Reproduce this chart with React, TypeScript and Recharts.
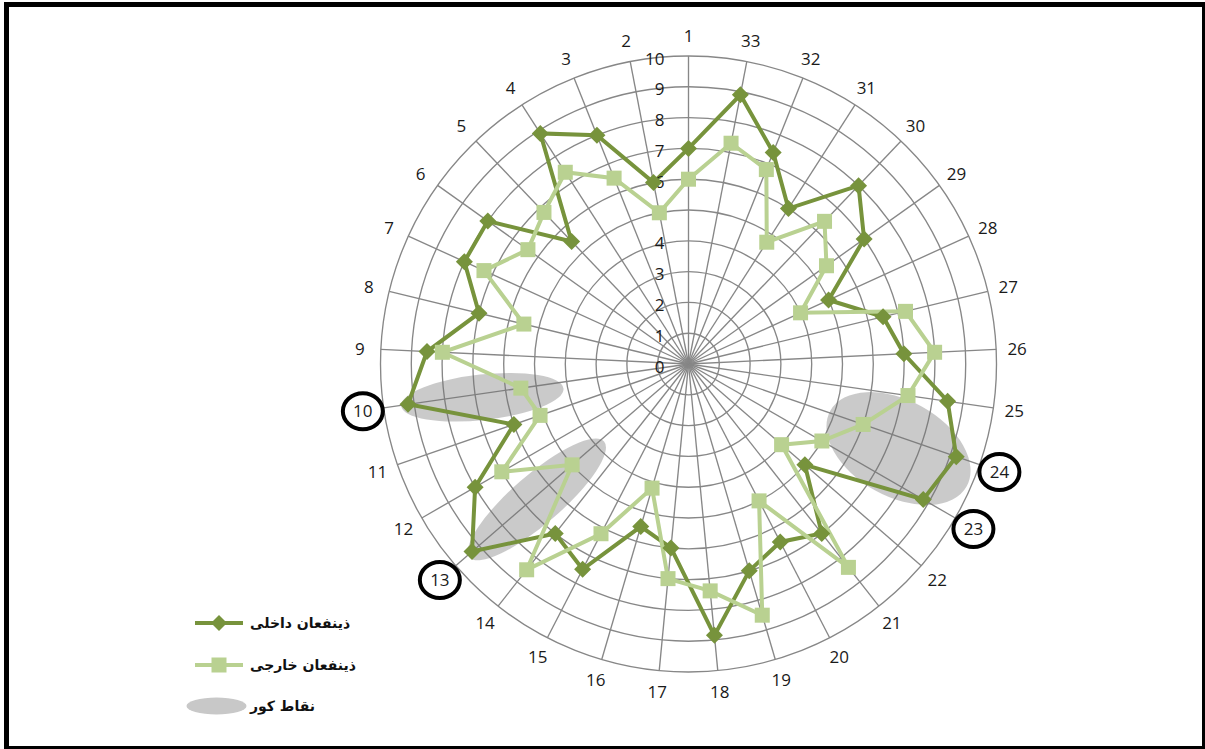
import React from 'react';
import {
  RadarChart,
  Radar,
  PolarGrid,
  PolarAngleAxis,
  PolarRadiusAxis,
  Legend,
  Customized,
} from 'recharts';

// ---------- data ----------
const categories = [
  '1', '2', '3', '4', '5', '6', '7', '8', '9', '10', '11',
  '12', '13', '14', '15', '16', '17', '18', '19', '20', '21', '22',
  '23', '24', '25', '26', '27', '28', '29', '30', '31', '32', '33',
];

// ذینفعان داخلی (internal stakeholders)
const internalValues = [
  7, 6, 8, 8.9, 5.5, 8, 8, 7, 8.5, 9.2, 6,
  8, 9.3, 7, 7.5, 5.5, 6, 8.85, 7, 6.5, 7, 5,
  8.8, 9.2, 8.5, 7, 6.5, 5, 7, 8, 6, 7.4, 8.9,
];

// ذینفعان خارجی (external stakeholders)
const externalValues = [
  6, 5, 6.5, 7.4, 6.8, 6.4, 7.3, 5.5, 8, 5.5, 5.1,
  7, 5, 8.5, 6.2, 4.2, 7, 7.4, 8.5, 5, 8.4, 4,
  5, 6, 7.2, 8, 7.25, 4, 5.5, 6.4, 4.7, 6.8, 7.3,
];

const radiusTicks = [0, 1, 2, 3, 4, 5, 6, 7, 8, 9, 10];
const highlightedCategories = ['10', '13', '23', '24'];

const internalName = 'ذینفعان داخلی';
const externalName = 'ذینفعان خارجی';
const blindSpotName = 'نقاط کور';

// blind-spot annotations, in data units (category position, value radius, half-axes)
const blindSpots = [
  { pos: 10.09, value: 6.78, a: 2.65, b: 0.74, tilt: 3 },
  { pos: 13.08, value: 6.6, a: 2.88, b: 0.8, tilt: 1 },
  { pos: 23.74, value: 7.35, a: 2.53, b: 1.56, tilt: 7 },
];

// categories run counter-clockwise from the top: 1, 2, 3 ... ; the chart is drawn
// clockwise, so the table is ordered 1, 33, 32, ..., 2
const displayOrder = categories.map((_, i) => (categories.length - i) % categories.length);
const data = displayOrder.map((j) => ({
  cat: categories[j],
  internal: internalValues[j],
  external: externalValues[j],
}));

// ---------- layout / style ----------
const W = 1205;
const H = 749;
const CX = 688.5;
const CY = 364;
const R = 308;
const LABEL_R = 329;
const DOMAIN_MAX = 10;
const STEP = 360 / categories.length;

const DARK = '#77933C';
const LIGHT = '#B9D191';
const GRID = '#878787';
const NUM_FONT = '"Open Sans", "DejaVu Sans", sans-serif';
const FA_FONT = '"DejaVu Sans", "Noto Sans", sans-serif';

const AngleTick = (props: any) => {
  const { x, y, payload } = props;
  const dx = x - CX;
  const dy = y - CY;
  const len = Math.hypot(dx, dy) || 1;
  const lx = CX + (dx / len) * LABEL_R;
  const ly = CY + (dy / len) * LABEL_R;
  const hl = highlightedCategories.includes(String(payload.value));
  return (
    <g>
      {hl && (
        <ellipse cx={lx} cy={ly + 0.5} rx={20} ry={18} fill="none" stroke="#000" strokeWidth={4} />
      )}
      <text
        x={lx}
        y={ly}
        textAnchor="middle"
        dominantBaseline="central"
        fontFamily={NUM_FONT}
        fontSize={17}
        fill="#1a1a1a"
      >
        {payload.value}
      </text>
    </g>
  );
};

const RadiusTick = (props: any) => {
  const { x, y, payload } = props;
  return (
    <text
      x={x - 24}
      y={y + 2}
      textAnchor="end"
      dominantBaseline="central"
      fontFamily={NUM_FONT}
      fontSize={17}
      fill="#1a1a1a"
    >
      {payload.value}
    </text>
  );
};

const Diamond = (props: any) => {
  const { cx, cy } = props;
  if (cx == null || cy == null) return null;
  const s = 8.5;
  return (
    <path
      d={`M${cx},${cy - s}L${cx + s},${cy}L${cx},${cy + s}L${cx - s},${cy}Z`}
      fill={DARK}
      stroke="none"
    />
  );
};

const Square = (props: any) => {
  const { cx, cy } = props;
  if (cx == null || cy == null) return null;
  const s = 7.5;
  return <rect x={cx - s} y={cy - s} width={2 * s} height={2 * s} fill={LIGHT} stroke="none" />;
};

const BlindSpotLayer = () => {
  return (
    <g>
      {blindSpots.map((s, i) => {
        const theta = 90 + (s.pos - 1) * STEP;
        const rad = (theta * Math.PI) / 180;
        const r = (s.value / DOMAIN_MAX) * R;
        const x = CX + r * Math.cos(rad);
        const y = CY - r * Math.sin(rad);
        const rot = -theta + s.tilt;
        return (
          <ellipse
            key={i}
            cx={x}
            cy={y}
            rx={(s.a / DOMAIN_MAX) * R}
            ry={(s.b / DOMAIN_MAX) * R}
            transform={`rotate(${rot} ${x} ${y})`}
            fill="rgba(115,115,115,0.38)"
          />
        );
      })}
    </g>
  );
};

const LegendContent = (props: any) => {
  const payload = (props.payload || []) as any[];
  const order = ['internal', 'external'];
  const rows = [...payload].sort(
    (a, b) => order.indexOf(a.dataKey) - order.indexOf(b.dataKey)
  );
  const heights = [40, 44, 38];
  const textStyle: React.CSSProperties = {
    fontFamily: FA_FONT,
    fontWeight: 'bold',
    fontSize: 14,
    color: '#111',
    direction: 'rtl',
    whiteSpace: 'nowrap',
  };
  return (
    <div>
      {rows.map((p, i) => {
        const isInternal = p.dataKey === 'internal';
        const color = isInternal ? DARK : LIGHT;
        return (
          <div
            key={p.dataKey}
            style={{ display: 'flex', alignItems: 'center', height: heights[i] }}
          >
            <svg width={64} height={20} style={{ display: 'block' }}>
              <line x1={9} y1={10} x2={57} y2={10} stroke={color} strokeWidth={4} />
              {isInternal ? (
                <path d="M33,2L41,10L33,18L25,10Z" fill={DARK} />
              ) : (
                <rect x={25.5} y={2.5} width={15} height={15} fill={LIGHT} />
              )}
            </svg>
            <span style={textStyle}>{p.value}</span>
          </div>
        );
      })}
      <div style={{ display: 'flex', alignItems: 'center', height: heights[2] }}>
        <svg width={64} height={20} style={{ display: 'block' }}>
          <ellipse cx={30.5} cy={10} rx={30} ry={8.5} fill="#c8c8c8" />
        </svg>
        <span style={textStyle}>{blindSpotName}</span>
      </div>
    </div>
  );
};

export default function App() {
  return (
    <div
      style={{
        position: 'absolute',
        left: 0,
        top: 0,
        width: W,
        height: H,
        overflow: 'hidden',
        background: '#fff',
      }}
    >
      <div
        style={{
          position: 'absolute',
          left: 4,
          top: 2,
          width: 1203,
          height: 748.5,
          border: '5.5px solid #000',
          boxSizing: 'border-box',
        }}
      />
      <div style={{ position: 'absolute', left: 0, top: 0 }}>
        <RadarChart
          width={W}
          height={H}
          data={data}
          cx={CX}
          cy={CY}
          outerRadius={R}
          startAngle={90}
          endAngle={-270}
          margin={{ top: 0, right: 0, bottom: 0, left: 0 }}
        >
          <PolarGrid gridType="circle" stroke={GRID} strokeWidth={1.35} />
          <PolarAngleAxis
            dataKey="cat"
            tick={<AngleTick />}
            tickLine={false}
            axisLine={false}
          />
          <PolarRadiusAxis
            angle={90}
            domain={[0, DOMAIN_MAX]}
            ticks={radiusTicks as any}
            tickCount={11}
            type="number"
            axisLine={false}
            tickLine={false}
            tick={<RadiusTick />}
          />
          <Radar
            name={internalName}
            dataKey="internal"
            stroke={DARK}
            strokeWidth={4}
            fill="none"
            fillOpacity={0}
            dot={<Diamond />}
            isAnimationActive={false}
          />
          <Radar
            name={externalName}
            dataKey="external"
            stroke={LIGHT}
            strokeWidth={4}
            fill="none"
            fillOpacity={0}
            dot={<Square />}
            isAnimationActive={false}
          />
          <Customized component={<BlindSpotLayer />} />
          <Legend
            layout="vertical"
            align="center"
            verticalAlign="middle"
            content={<LegendContent />}
            wrapperStyle={{ left: 186, top: 603, width: 240, height: 'auto' }}
          />
        </RadarChart>
      </div>
    </div>
  );
}
